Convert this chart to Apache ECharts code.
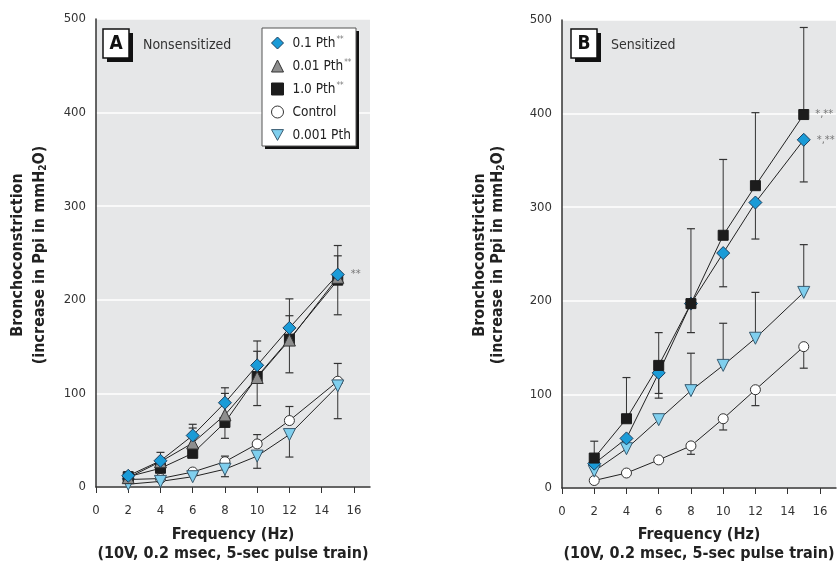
<!DOCTYPE html>
<html><head><meta charset="utf-8">
<script src="https://cdn.jsdelivr.net/npm/echarts@6/dist/echarts.min.js"></script>
<style>html,body{margin:0;padding:0;background:#fff}#c{width:838px;height:563px}</style>
</head><body><div id="c"></div>
<script>
// ---- data ----
const freq = [2, 4, 6, 8, 10, 12, 15];
const xTicks = [0, 2, 4, 6, 8, 10, 12, 14, 16];
const yTicks = [0, 100, 200, 300, 400, 500];

// Panel A: Nonsensitized
const aP1   = [12, 28, 55, 90, 130, 170, 227];   // 0.1 Pth
const aP01  = [10, 27, 47, 77, 117, 157, 224];   // 0.01 Pth
const aP10  = [11, 20, 36, 69, 118, 158, 221];   // 1.0 Pth
const aCtrl = [8, 9, 16, 27, 46, 71, 113];       // Control
const aP001 = [3, 6, 11, 19, 33, 56, 108];       // 0.001 Pth
// error bars (deltas)
const aP1Up    = [4, 9, 12, 16, 26, 31, 31];
const aP01Up   = [null, null, 16, 23, 28, 26, 23];
const aP10Dn   = [null, null, null, 17, 31, 36, 37];
const aCtrlUp  = [null, null, null, 6, 10, 15, 19];
const aP001Dn  = [null, null, null, 8, 13, 24, 35];

// Panel B: Sensitized
const bP10  = [32, 74, 131, 197, 270, 323, 399];
const bP1   = [26, 53, 123, 197, 251, 305, 372];
const bP001 = [18, 42, 73, 104, 131, 160, 209];
const bCtrl = [8, 16, 30, 45, 74, 105, 151];
const bP10Up   = [18, 44, 35, 80, 81, 78, 93];
const bP10Dn   = [null, null, 35, null, null, null, null];
const bP1Dn    = [null, null, 22, 31, 36, 39, 45];
const bP001Up  = [null, null, null, 40, 45, 49, 51];
const bCtrlDn  = [null, null, null, 9, 12, 17, 23];

const starred = ['0.1 Pth', '0.01 Pth', '1.0 Pth'];
const legendNames = ['0.1 Pth', '0.01 Pth', '1.0 Pth', 'Control', '0.001 Pth'];

// ---- styles ----
const FONT = '"Liberation Sans Narrow", "DejaVu Sans Condensed", "Liberation Sans", sans-serif';
const INV_TRI = 'path://M0,0L10,0L5,9Z';
const sty = {
  '0.1 Pth':   {symbol: 'diamond',  icon: 'diamond',  size: 13, rot: 0,   color: '#1a9bd7', border: '#1d3f5e'},
  '0.01 Pth':  {symbol: 'triangle', icon: 'triangle', size: 12, rot: 0,   color: '#8e8e8e', border: '#333'},
  '1.0 Pth':   {symbol: 'rect',     icon: 'rect',     size: 10, rot: 0,   color: '#1c1c1c', border: '#1c1c1c'},
  'Control':   {symbol: 'circle',   icon: 'circle',   size: 10, rot: 0,   color: '#ffffff', border: '#333'},
  '0.001 Pth': {symbol: 'triangle', icon: INV_TRI,    size: 12, rot: 180, color: '#7fcfee', border: '#3a5b70'}
};

function pts(vals, lastLabel) {
  return vals.map((v, i) => {
    const d = {value: [freq[i], v]};
    if (lastLabel && i === vals.length - 1) {
      d.label = {show: true, position: 'right', distance: 6, formatter: lastLabel,
        color: '#777', fontSize: 11, fontFamily: FONT};
    }
    return d;
  });
}
function lineSeries(name, vals, gi, lastLabel) {
  const s = sty[name];
  return {
    type: 'line', name, xAxisIndex: gi, yAxisIndex: gi, data: pts(vals, lastLabel),
    symbol: s.symbol, symbolSize: s.size, symbolRotate: s.rot,
    lineStyle: {color: '#222', width: 1},
    itemStyle: {color: s.color, borderColor: s.border, borderWidth: 1},
    emphasis: {disabled: true}, z: 5, animation: false, silent: true
  };
}
function errData(vals, deltas, sign) {
  const out = [];
  vals.forEach((v, i) => { if (deltas[i] != null) out.push([freq[i], v, v + sign * deltas[i]]); });
  return out;
}
function errSeries(gi, vals, deltas, sign) {
  return {
    type: 'custom', xAxisIndex: gi, yAxisIndex: gi, data: errData(vals, deltas, sign),
    z: 3, silent: true, animation: false,
    renderItem: function (params, api) {
      const p0 = api.coord([api.value(0), api.value(1)]);
      const p1 = api.coord([api.value(0), api.value(2)]);
      const w = 4;
      return {type: 'group', children: [
        {type: 'line', shape: {x1: p0[0], y1: p0[1], x2: p1[0], y2: p1[1]}, style: {stroke: '#333', lineWidth: 1}},
        {type: 'line', shape: {x1: p1[0] - w, y1: p1[1], x2: p1[0] + w, y2: p1[1]}, style: {stroke: '#333', lineWidth: 1.2}}
      ]};
    }
  };
}

function xAxis(gi) {
  return {
    type: 'value', gridIndex: gi, min: 0, max: 17, interval: 2,
    axisLine: {show: true, lineStyle: {color: '#333', width: 1.5}},
    axisTick: {show: true, customValues: xTicks, length: 6, inside: false, lineStyle: {color: '#333', width: 1}},
    axisLabel: {customValues: xTicks, color: '#333', fontSize: 13, fontFamily: FONT, margin: 17},
    splitLine: {show: false}
  };
}
function yAxis(gi) {
  return {
    type: 'value', gridIndex: gi, min: 0, max: 500, interval: 100,
    axisLine: {show: true, lineStyle: {color: '#333', width: 1.5}},
    axisTick: {show: false},
    axisLabel: {customValues: yTicks, color: '#333', fontSize: 13, fontFamily: FONT, margin: 10},
    splitLine: {show: true, lineStyle: {color: '#ffffff', width: 1.5}}
  };
}

function panelBox(x, y, letter, label) {
  return [
    {type: 'rect', shape: {x: x + 4, y: y + 4, width: 26, height: 29}, style: {fill: '#111'}, z: 10},
    {type: 'rect', shape: {x: x, y: y, width: 26, height: 29}, style: {fill: '#fff', stroke: '#111', lineWidth: 1.5}, z: 11},
    {type: 'text', x: x + 13, y: y + 15, style: {text: letter, fill: '#111', font: 'bold 19px ' + FONT, align: 'center', verticalAlign: 'middle'}, z: 12},
    {type: 'text', x: x + 40, y: y + 16, style: {text: label, fill: '#333', font: '14px ' + FONT, align: 'left', verticalAlign: 'middle'}, z: 12}
  ];
}
function yTitle(x1, x2, cy) {
  return [
    {type: 'text', x: x1, y: cy, rotation: Math.PI / 2,
      style: {text: 'Bronchoconstriction', fill: '#222', font: 'bold 16px ' + FONT, align: 'center', verticalAlign: 'middle'}},
    {type: 'text', x: x2, y: cy, rotation: Math.PI / 2,
      style: {text: '(increase in Ppi in mmH{s|2}O)', fill: '#222', font: 'bold 16px ' + FONT, align: 'center', verticalAlign: 'middle',
        rich: {s: {font: 'bold 10px ' + FONT, fill: '#222', padding: [6, 0, 0, 0]}}}}
  ];
}
function xTitle(cx) {
  return [
    {type: 'text', x: cx, y: 535, style: {text: 'Frequency (Hz)', fill: '#222', font: 'bold 16px ' + FONT, align: 'center', verticalAlign: 'middle'}},
    {type: 'text', x: cx, y: 554, style: {text: '(10V, 0.2 msec, 5-sec pulse train)', fill: '#222', font: 'bold 16px ' + FONT, align: 'center', verticalAlign: 'middle'}}
  ];
}

const option = {
  animation: false,
  backgroundColor: '#ffffff',
  grid: [
    {left: 96, top: 19, width: 274, height: 468, show: true, backgroundColor: '#e6e7e8', borderWidth: 0},
    {left: 562, top: 20, width: 274, height: 468, show: true, backgroundColor: '#e6e7e8', borderWidth: 0}
  ],
  xAxis: [xAxis(0), xAxis(1)],
  yAxis: [yAxis(0), yAxis(1)],
  legend: {
    show: true, orient: 'vertical', left: 271, top: 36, padding: 0,
    itemWidth: 12, itemHeight: 12, itemGap: 9, selectedMode: false, z: 20,
    data: legendNames.map(n => ({name: n, icon: sty[n].icon,
      itemStyle: {color: sty[n].color, borderColor: sty[n].border, borderWidth: 1}})),
    formatter: n => starred.includes(n) ? '{t|' + n + '}{s|**}' : '{t|' + n + '}',
    textStyle: {rich: {
      t: {fontSize: 13.5, fontFamily: FONT, color: '#222', padding: [0, 0, 0, 4]},
      s: {fontSize: 8, fontFamily: FONT, color: '#777', padding: [0, 0, 6, 1]}
    }}
  },
  graphic: [
    {type: 'rect', shape: {x: 265, y: 31, width: 94, height: 118}, style: {fill: '#111'}, z: 10},
    {type: 'rect', shape: {x: 262, y: 28, width: 94, height: 118}, style: {fill: '#fff', stroke: '#555', lineWidth: 1}, z: 11},
    ...panelBox(103, 29, 'A', 'Nonsensitized'),
    ...panelBox(571, 29, 'B', 'Sensitized'),
    ...yTitle(18, 40, 255),
    ...yTitle(480, 498, 255),
    ...xTitle(233),
    ...xTitle(699)
  ],
  series: [
    errSeries(0, aP1, aP1Up, 1),
    errSeries(0, aP01, aP01Up, 1),
    errSeries(0, aP10, aP10Dn, -1),
    errSeries(0, aCtrl, aCtrlUp, 1),
    errSeries(0, aP001, aP001Dn, -1),
    lineSeries('Control', aCtrl, 0),
    lineSeries('0.001 Pth', aP001, 0),
    lineSeries('1.0 Pth', aP10, 0),
    lineSeries('0.01 Pth', aP01, 0),
    lineSeries('0.1 Pth', aP1, 0, '**'),

    errSeries(1, bP10, bP10Up, 1),
    errSeries(1, bP10, bP10Dn, -1),
    errSeries(1, bP1, bP1Dn, -1),
    errSeries(1, bP001, bP001Up, 1),
    errSeries(1, bCtrl, bCtrlDn, -1),
    lineSeries('Control', bCtrl, 1),
    lineSeries('0.001 Pth', bP001, 1),
    lineSeries('0.1 Pth', bP1, 1, '*,**'),
    lineSeries('1.0 Pth', bP10, 1, '*,**')
  ]
};
const chart = echarts.init(document.getElementById('c'), null, {renderer: 'canvas'});
chart.setOption(option);
</script></body></html>
